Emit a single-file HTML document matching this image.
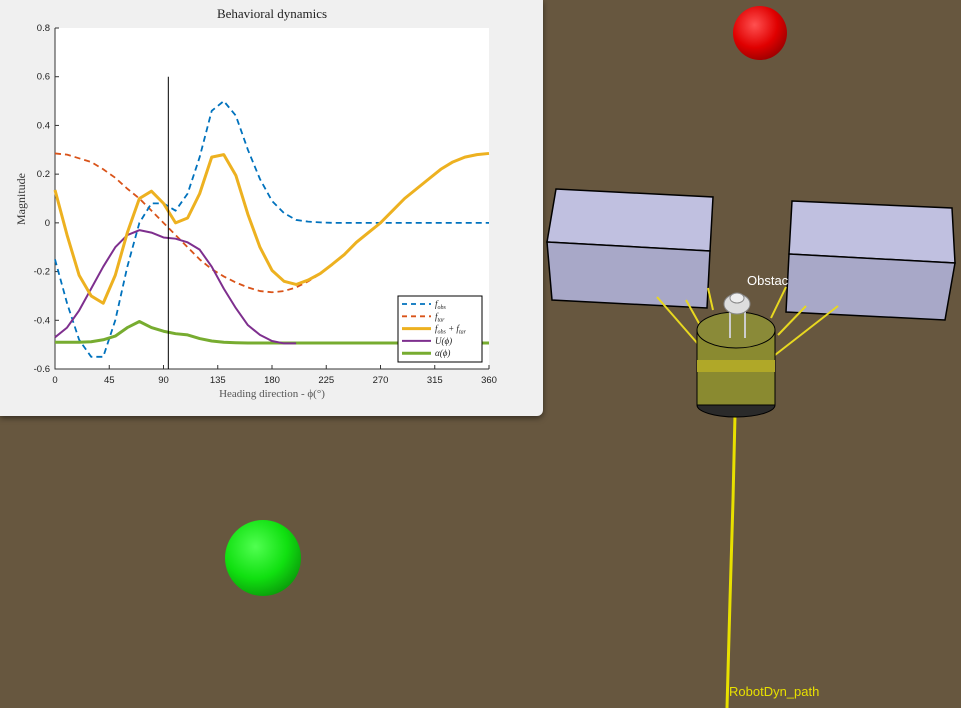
<!DOCTYPE html>
<html><head><meta charset="utf-8"><style>
body{margin:0;width:961px;height:708px;overflow:hidden;background:#67573f;font-family:"Liberation Sans",sans-serif;}
#scene{position:absolute;left:0;top:0;}
#panel{position:absolute;left:0;top:0;width:543px;height:416px;background:#f0f0f0;border-bottom-right-radius:6px;box-shadow:0 2px 6px rgba(0,0,0,0.5);}
</style></head><body>
<svg id="scene" width="961" height="708">
<defs>
<radialGradient id="rg" cx="0.4" cy="0.35" r="0.7"><stop offset="0" stop-color="#ff5050"/><stop offset="0.6" stop-color="#e00000"/><stop offset="1" stop-color="#900"/></radialGradient>
<radialGradient id="gg" cx="0.4" cy="0.35" r="0.7"><stop offset="0" stop-color="#50ff50"/><stop offset="0.6" stop-color="#10e010"/><stop offset="1" stop-color="#0a9a0a"/></radialGradient>
</defs>
<circle cx="760" cy="33" r="27" fill="url(#rg)"/>
<circle cx="263" cy="558" r="38" fill="url(#gg)"/>
<polyline points="735,415 733,500 730,600 727,708" fill="none" stroke="#e8e000" stroke-width="3"/>
<text x="729" y="696" fill="#e8e000" font-size="13">RobotDyn_path</text>
<g stroke="#000" stroke-width="1.5">
<polygon points="556,189 713,197 710,251 547,242" fill="#c0c0e0"/>
<polygon points="547,242 710,251 707,308 552,300" fill="#a8a8c8"/>
</g>
<g stroke="#000" stroke-width="1.5">
<polygon points="792,201 952,208 955,263 789,254" fill="#c0c0e0"/>
<polygon points="789,254 955,263 945,320 786,312" fill="#a8a8c8"/>
</g>
<text x="747" y="285" fill="#fff" font-size="13">Obstac</text>
<g>
<g stroke="#e8d820" stroke-width="2">
<line x1="657" y1="297" x2="698" y2="344"/><line x1="686" y1="300" x2="700" y2="325"/><line x1="708" y1="288" x2="713" y2="310"/>
<line x1="786" y1="287" x2="771" y2="318"/><line x1="806" y1="306" x2="778" y2="335"/><line x1="838" y1="306" x2="775" y2="355"/>
</g>
<ellipse cx="736" cy="405" rx="39" ry="12" fill="#2a2a2a" stroke="#000"/>
<rect x="697" y="330" width="78" height="75" fill="#8a8a30" stroke="#000"/>
<rect x="697" y="360" width="78" height="12" fill="#b0a828"/>
<ellipse cx="736" cy="330" rx="39" ry="18" fill="#8a8a38" stroke="#000"/>
<line x1="730" y1="312" x2="730" y2="338" stroke="#ccc" stroke-width="2"/><line x1="745" y1="312" x2="745" y2="338" stroke="#ccc" stroke-width="2"/>
<ellipse cx="737" cy="304" rx="13" ry="10" fill="#ddd" stroke="#888"/>
<ellipse cx="737" cy="298" rx="7" ry="5" fill="#eee" stroke="#888"/>
</g>
</svg>
<div id="panel">
<svg id="chart" width="543" height="416"></svg>
</div>
<script>
const degs=[0,10,20,30,40,50,60,70,80,90,100,110,120,130,140,150,160,170,180,190,200,210,220,230,240,250,260,270,280,290,300,310,320,330,340,350,360];
const fObs=[-0.15,-0.33,-0.48,-0.55,-0.55,-0.40,-0.18,0.0,0.08,0.08,0.05,0.12,0.27,0.46,0.50,0.44,0.30,0.18,0.09,0.04,0.012,0.005,0.002,0,0,0,0,0,0,0,0,0,0,0,0,0,0];
const fTar=[0.285,0.28,0.265,0.25,0.22,0.185,0.14,0.10,0.05,0.0,-0.05,-0.10,-0.15,-0.19,-0.22,-0.245,-0.265,-0.28,-0.285,-0.28,-0.265,-0.24,-0.21,-0.17,-0.13,-0.08,-0.04,0.0,0.05,0.10,0.14,0.18,0.22,0.25,0.27,0.28,0.285];
const uPhi=[-0.47,-0.43,-0.36,-0.27,-0.18,-0.10,-0.05,-0.03,-0.04,-0.06,-0.065,-0.08,-0.11,-0.18,-0.27,-0.35,-0.42,-0.46,-0.485,-0.495,-0.495];
const alphaPhi=[-0.49,-0.49,-0.49,-0.488,-0.48,-0.465,-0.43,-0.405,-0.43,-0.445,-0.455,-0.46,-0.475,-0.485,-0.49,-0.492,-0.493,-0.493,-0.493,-0.493,-0.493,-0.493,-0.493,-0.493,-0.493,-0.493,-0.493,-0.493,-0.493,-0.493,-0.493,-0.493,-0.493,-0.493,-0.493,-0.493,-0.493];
const xTicks=[0,45,90,135,180,225,270,315,360];
const yTicks=[-0.6,-0.4,-0.2,0,0.2,0.4,0.6,0.8];
const headingLine=94;
const NS="http://www.w3.org/2000/svg";
const svg=document.getElementById('chart');
const X0=55,X1=489,Y0=369,Y1=28;
function xs(v){return X0+(v-0)/360*(X1-X0);}
function ys(v){return Y0-(v+0.6)/1.4*(Y0-Y1);}
function mk(t,a,p){const e=document.createElementNS(NS,t);for(const k in a)e.setAttribute(k,a[k]);(p||svg).appendChild(e);return e;}
let r=mk('rect',{x:X0,y:Y1,width:X1-X0,height:Y0-Y1,fill:'#fff'});


let t=mk('text',{x:272,y:18,'text-anchor':'middle','font-family':'Liberation Serif, serif','font-size':13,fill:'#222'});t.textContent='Behavioral dynamics';


let ax=mk('path',{d:`M${X0},${Y1}V${Y0}H${X1}`,stroke:'#333',fill:'none','stroke-width':1});


xTicks.forEach(v=>{mk('line',{x1:xs(v),x2:xs(v),y1:Y0,y2:Y0-4,stroke:'#333'});
 const l=mk('text',{x:xs(v),y:Y0+14,'text-anchor':'middle','font-size':9.5,fill:'#222'});l.textContent=v;
 
 });
yTicks.forEach(v=>{mk('line',{x1:X0,x2:X0+4,y1:ys(v),y2:ys(v),stroke:'#333'});
 const l=mk('text',{x:X0-5,y:ys(v)+3,'text-anchor':'end','font-size':9.5,fill:'#222'});l.textContent=(v===0?'0':v.toFixed(1));
 
 });
let xl=mk('text',{x:272,y:397,'text-anchor':'middle','font-family':'Liberation Serif, serif','font-size':11,fill:'#555'});xl.textContent='Heading direction - \u03d5(\u00b0)';


let yl=mk('text',{x:0,y:0,transform:'translate(25,199) rotate(-90)','text-anchor':'middle','font-family':'Liberation Serif, serif','font-size':12,fill:'#333'});yl.textContent='Magnitude';


function line(vals,col,w,dash,name){const pts=vals.map((v,i)=>xs(degs[i])+','+ys(v)).join(' ');
 const p=mk('polyline',{points:pts,fill:'none',stroke:col,'stroke-width':w,'stroke-dasharray':dash||'none','stroke-linejoin':'round'});
 
 }
const sum=fObs.map((v,i)=>v+fTar[i]);
line(fTar,'#d95319',1.8,'6,4','series-f-tar');
line(fObs,'#0072bd',1.8,'6,4','series-f-obs');
line(alphaPhi,'#77ac30',3,null,'series-alpha');
line(uPhi,'#7e2f8e',2,null,'series-u');
line(sum,'#edb120',3,null,'series-f-sum');
let hl=mk('line',{x1:xs(headingLine),x2:xs(headingLine),y1:ys(0.6),y2:ys(-0.6),stroke:'#000','stroke-width':1});


const lg=mk('g',{});


mk('rect',{x:398,y:296,width:84,height:66,fill:'#fff',stroke:'#000','stroke-width':1},lg);
const leg=[['#0072bd','5,4',1.8,'f<tspan font-size="6" dy="2">obs</tspan>'],['#d95319','5,4',1.8,'f<tspan font-size="6" dy="2">tar</tspan>'],['#edb120','none',3,'f<tspan font-size="6" dy="2">obs</tspan><tspan dy="-2"> + f</tspan><tspan font-size="6" dy="2">tar</tspan>'],['#7e2f8e','none',2,'U(\u03d5)'],['#77ac30','none',3,'\u03b1(\u03d5)']];
leg.forEach((e,i)=>{const y=304+i*12.3;
 mk('line',{x1:402,x2:431,y1:y,y2:y,stroke:e[0],'stroke-width':e[2],'stroke-dasharray':e[1]},lg);
 const tx=mk('text',{x:435,y:y+3,'font-family':'Liberation Serif, serif','font-style':'italic','font-size':9,fill:'#222'},lg);tx.innerHTML=e[3];
 
 });
</script>
</body></html>
